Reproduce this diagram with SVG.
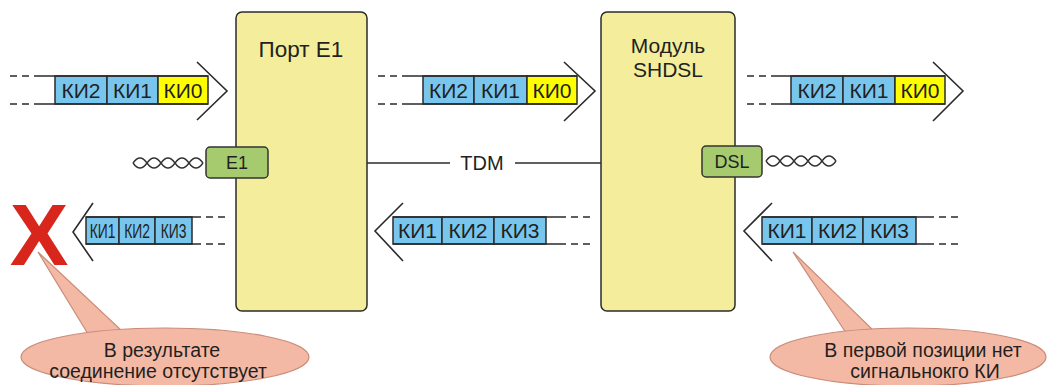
<svg xmlns="http://www.w3.org/2000/svg" width="1050" height="385" viewBox="0 0 1050 385">
<style>
text{font-family:"Liberation Sans",Arial,sans-serif;fill:#231f20}
.blk{fill:#f4ee9c;stroke:#2b2b2b;stroke-width:1.5}
.lbl{font-size:21px;text-anchor:middle}
.cb{fill:#78c6ee;stroke:#2b2b2b;stroke-width:1.5}
.cy{fill:#ffff00;stroke:#2b2b2b;stroke-width:1.5}
.ln{fill:none;stroke:#2b2b2b;stroke-width:1.5}
.ds{fill:none;stroke:#2b2b2b;stroke-width:1.5;stroke-dasharray:7 5 7 5 1000}
.chev{fill:none;stroke:#2b2b2b;stroke-width:1.6}
.ct{font-size:21px;text-anchor:middle}
.ctn{font-size:21px;text-anchor:middle}
.grn{fill:#a5cb6e;stroke:#333;stroke-width:1.5}
.tw{fill:none;stroke:#333;stroke-width:1.4}
.bub{fill:#f4b9a5;stroke:#c98c78;stroke-width:1.2}
.bt{font-size:19.5px;text-anchor:middle}
</style>

<g id="port-e1">
<rect class="blk" x="236" y="12" width="131" height="299" rx="6"/>
<text x="301" y="57" style="font-size:22.5px;text-anchor:middle">Порт E1</text>
</g>
<g id="module-shdsl">
<rect class="blk" x="601" y="12" width="134" height="299" rx="6"/>
<text class="lbl" x="668" y="53">Модуль</text>
<text class="lbl" x="668" y="77">SHDSL</text>
</g>

<g id="connectors">
<line class="ln" x1="367" y1="163" x2="450" y2="163"/>
<line class="ln" x1="515" y1="163" x2="601" y2="163"/>
<path class="tw" d="M133,163 q7,-10 14,0 t14,0 t14,0 t14,0 t14,0"/>
<path class="tw" d="M133,163 q7,10 14,0 t14,0 t14,0 t14,0 t14,0"/>
<path class="tw" d="M766,161 q7,-10 14,0 t14,0 t14,0 t14,0 t14,0"/>
<path class="tw" d="M766,161 q7,10 14,0 t14,0 t14,0 t14,0 t14,0"/>
</g>
<text id="tdm" x="482" y="170" style="font-size:20px;text-anchor:middle">TDM</text>

<g id="e1-iface">
<rect class="grn" x="206" y="147" width="62" height="31" rx="4"/>
<text x="237" y="169" style="font-size:18px;text-anchor:middle">E1</text>
</g>
<g id="dsl-iface">
<rect class="grn" x="702" y="146" width="60" height="31" rx="4"/>
<text x="732" y="168" style="font-size:18px;text-anchor:middle">DSL</text>
</g>

<g id="stream-top-left">
<rect class="cb" x="55" y="76" width="52" height="28"/>
<rect class="cb" x="107" y="76" width="51" height="28"/>
<rect class="cy" x="158" y="76" width="50" height="28"/>
<path class="ds" d="M10,76 H208 M10,104 H208"/>
<polyline class="chev" points="197,62 227,91 197,120"/>
<text class="ct" x="81" y="98">КИ2</text>
<text class="ct" x="132.5" y="98">КИ1</text>
<text class="ct" x="183" y="98">КИ0</text>
</g>

<g id="stream-top-mid">
<rect class="cb" x="423" y="76" width="51" height="28"/>
<rect class="cb" x="474" y="76" width="53" height="28"/>
<rect class="cy" x="527" y="76" width="50" height="28"/>
<path class="ds" d="M378,76 H577 M378,104 H577"/>
<polyline class="chev" points="564,62 595,91 564,121"/>
<text class="ct" x="448.5" y="98">КИ2</text>
<text class="ct" x="500.5" y="98">КИ1</text>
<text class="ct" x="552" y="98">КИ0</text>
</g>

<g id="stream-top-right">
<rect class="cb" x="791" y="76" width="52" height="28"/>
<rect class="cb" x="843" y="76" width="52" height="28"/>
<rect class="cy" x="895" y="76" width="50" height="28"/>
<path class="ds" d="M747,76 H945 M747,104 H945"/>
<polyline class="chev" points="933,62 963,91 933,121"/>
<text class="ct" x="817" y="98">КИ2</text>
<text class="ct" x="869" y="98">КИ1</text>
<text class="ct" x="920" y="98">КИ0</text>
</g>

<g id="stream-bottom-left">
<rect class="cb" x="86" y="217" width="33" height="27"/>
<rect class="cb" x="119" y="217" width="36" height="27"/>
<rect class="cb" x="155" y="217" width="37" height="27"/>
<path class="ds" d="M225,217 H86 M225,244 H86"/>
<polyline class="chev" points="93,203 73,232 93,261"/>
<text class="ctn" transform="translate(102.5,238) scale(0.66,1)">КИ1</text>
<text class="ctn" transform="translate(137,238) scale(0.66,1)">КИ2</text>
<text class="ctn" transform="translate(173.5,238) scale(0.66,1)">КИ3</text>
</g>

<g id="stream-bottom-mid">
<rect class="cb" x="393" y="217" width="49" height="27"/>
<rect class="cb" x="442" y="217" width="52" height="27"/>
<rect class="cb" x="494" y="217" width="52" height="27"/>
<path class="ds" d="M590,217 H393 M590,244 H393"/>
<polyline class="chev" points="403,203 375,231 403,261"/>
<text class="ct" x="417.5" y="238">КИ1</text>
<text class="ct" x="468" y="238">КИ2</text>
<text class="ct" x="520" y="238">КИ3</text>
</g>

<g id="stream-bottom-right">
<rect class="cb" x="762" y="217" width="50" height="27"/>
<rect class="cb" x="812" y="217" width="51" height="27"/>
<rect class="cb" x="863" y="217" width="53" height="27"/>
<path class="ds" d="M958,217 H762 M958,244 H762"/>
<polyline class="chev" points="772,203 744,231 772,261"/>
<text class="ct" x="787" y="238">КИ1</text>
<text class="ct" x="837.5" y="238">КИ2</text>
<text class="ct" x="889.5" y="238">КИ3</text>
</g>

<g id="fail-mark">
<text x="39" y="265" style="font-size:88px;font-weight:bold;text-anchor:middle;fill:#d9261c">X</text>
</g>

<g id="callout-left">
<path class="bub" d="M88,334 L38,252 L122,331 Z"/>
<ellipse class="bub" cx="165" cy="357" rx="144" ry="29"/>
<path d="M89,336 L121,333" style="stroke:#f4b9a5;stroke-width:3"/>
<text class="bt" x="162" y="357">В результате</text>
<text class="bt" x="158" y="378">соединение отсутствует</text>
</g>

<g id="callout-right">
<path class="bub" d="M848,336 L793,252 L876,333 Z"/>
<ellipse class="bub" cx="908" cy="357" rx="138" ry="29"/>
<path d="M849,338 L875,335" style="stroke:#f4b9a5;stroke-width:3"/>
<text class="bt" x="923" y="357">В первой позиции нет</text>
<text class="bt" x="925" y="378">сигнальнокго КИ</text>
</g>
</svg>
